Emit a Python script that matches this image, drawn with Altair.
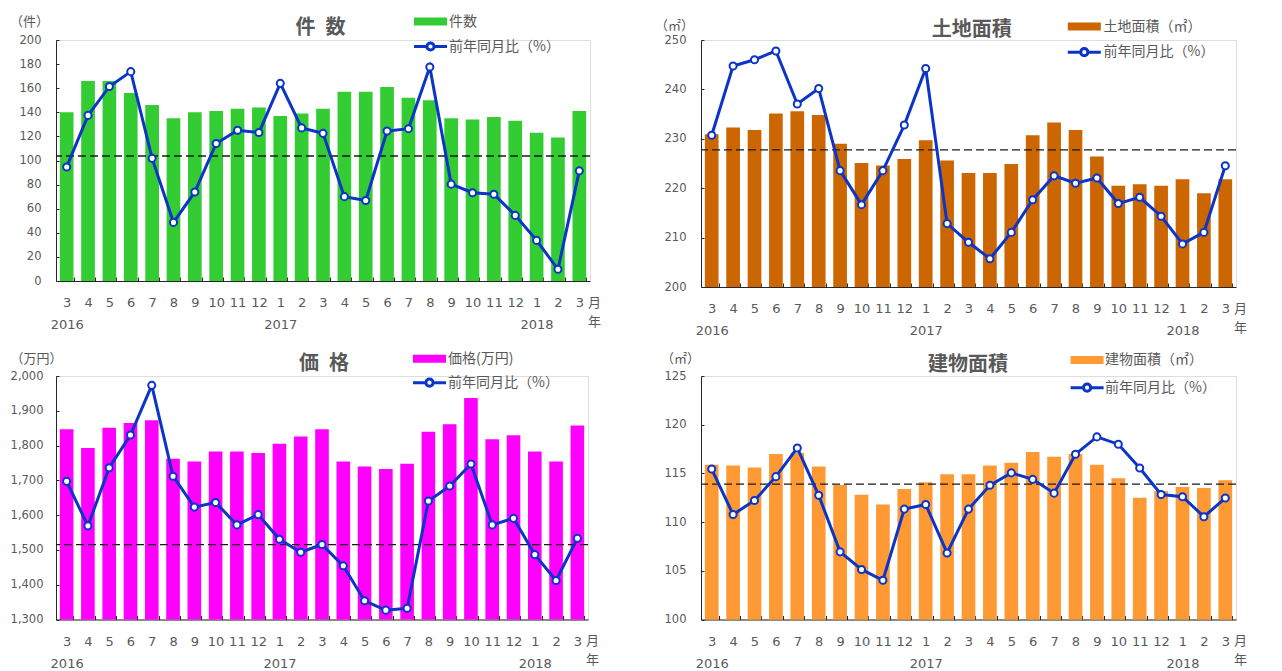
import json
import altair as alt
import pandas as pd

# ---------------- data ----------------
MONTHS = [3, 4, 5, 6, 7, 8, 9, 10, 11, 12, 1, 2, 3, 4, 5, 6, 7, 8, 9, 10, 11, 12, 1, 2, 3]
YEAR_AT = {0: "2016", 10: "2017", 22: "2018"}

COUNT = [140, 166, 166, 156, 146, 135, 140, 141, 143, 144, 137, 139, 143,
         157, 157, 161, 152, 150, 135, 134, 136, 133, 123, 119, 141]
COUNT_YOY = [-1.4, 5.2, 8.9, 10.8, -0.3, -8.5, -4.6, 1.6, 3.3, 3.0, 9.3, 3.6, 2.9,
             -5.2, -5.7, 3.2, 3.5, 11.4, -3.6, -4.7, -4.9, -7.6, -10.8, -14.5, -1.9]

LAND = [230.9, 232.3, 231.8, 235.1, 235.6, 234.8, 229.0, 225.1, 224.6, 225.9, 229.7, 225.6, 223.1,
        223.1, 224.9, 230.7, 233.3, 231.8, 226.4, 220.5, 220.8, 220.5, 221.8, 219.0, 221.8]
LAND_YOY = [0.53, 3.05, 3.28, 3.6, 1.67, 2.23, -0.76, -2.0, -0.76, 0.9, 2.96, -2.69, -3.37,
            -3.97, -3.01, -1.82, -0.95, -1.22, -1.03, -1.96, -1.73, -2.42, -3.43, -3.01, -0.58]

PRICE = [1847, 1793, 1851, 1865, 1873, 1762, 1754, 1783, 1783, 1779, 1805, 1826, 1847,
         1754, 1740, 1733, 1748, 1840, 1861, 1937, 1818, 1830, 1783, 1754, 1858]
PRICE_YOY = [6.75, 2.0, 8.2, 11.7, 17.0, 7.3, 4.0, 4.5, 2.1, 3.2, 0.57, -0.82, 0.0,
             -2.27, -6.0, -7.0, -6.8, 4.65, 6.25, 8.6, 2.1, 2.8, -1.07, -3.84, 0.67]

BLDG = [115.9, 115.8, 115.6, 117.0, 117.1, 115.7, 113.8, 112.8, 111.8, 113.4, 114.1, 114.9, 114.9,
        115.8, 116.1, 117.2, 116.7, 117.0, 115.9, 114.5, 112.5, 113.2, 113.6, 113.5, 114.3]
BLDG_YOY = [0.56, -1.12, -0.6, 0.28, 1.34, -0.41, -2.5, -3.15, -3.55, -0.92, -0.75, -2.54, -0.92,
            -0.04, 0.42, 0.18, -0.33, 1.11, 1.75, 1.48, 0.6, -0.38, -0.46, -1.2, -0.51]

LINE_NAME = "前年同月比（%）"

# ---------------- style ----------------
FONT_NUM = "DejaVu Sans"
FONT_JP = "Noto Sans CJK JP"
GRAY = "#595959"
AXIS = "#262626"
BLUE = "#0B34C8"

BAR_PATH = "M-4.125,-1L4.125,-1L4.125,1L-4.125,1Z"
LINE_PATH = ("M-4.125,0L-0.9,0M0.9,0L4.125,0"
             "M-0.9,0A0.9,0.9,0,1,1,0.9,0A0.9,0.9,0,1,1,-0.9,0Z")

x_labels = [[str(m), YEAR_AT[i]] if i in YEAR_AT else str(m) for i, m in enumerate(MONTHS)]
X_EXPR = json.dumps(x_labels, ensure_ascii=False) + "[datum.value]"


def panel(vals, yoy, bar_name, bar_color, title, unit, ldom, lticks, rdom, rticks,
          W, H, lfmt, p):
    df = pd.DataFrame({
        "idx": list(range(len(MONTHS))),
        "val": vals,
        "yoy": yoy,
        "bar": [bar_name] * len(MONTHS),
        "line": [LINE_NAME] * len(MONTHS),
    })
    base = alt.Chart(df)

    x = alt.X(
        "idx:O",
        scale=alt.Scale(paddingInner=0.36, paddingOuter=0.18),
        axis=alt.Axis(
            labelExpr=X_EXPR, labelAngle=0, labelFont=FONT_NUM, labelFontSize=13,
            labelColor=GRAY, labelPadding=19.5, labelLineHeight=22, labelBaseline="top",
            labelOverlap=False, tickBand="extent", tickSize={"expr": "-4"},
            tickColor=AXIS, domainColor=AXIS, grid=False,
            title=["月", "年"], titleX=W + 4, titleY=15, titleAngle=0,
            titleAlign="center", titleBaseline="top", titleFont=FONT_JP,
            titleFontSize=13, titleFontWeight="normal", titleColor=GRAY,
            titleLineHeight=19,
        ),
    )

    left_axis = dict(
        orient="left", values=lticks, labelFont=FONT_NUM, labelFontSize=11.5,
        labelColor=GRAY, labelPadding=p.get("lpad", 18), tickSize={"expr": "-3"},
        tickColor=AXIS, domainColor=AXIS, grid=False, labelOverlap=False,
        title=unit, titleX=p["ulx"], titleY=p["uy"], titleAngle=0,
        titleAlign="center", titleBaseline="middle", titleFont=FONT_JP,
        titleFontSize=13, titleFontWeight="normal", titleColor=GRAY,
    )
    if lfmt:
        left_axis["format"] = lfmt

    bars = base.mark_bar().encode(
        x=x,
        y=alt.Y("val:Q", scale=alt.Scale(domain=ldom, nice=False, zero=False),
                axis=alt.Axis(**left_axis)),
        y2=alt.datum(ldom[0]),
        fill=alt.Fill(
            "bar:N",
            scale=alt.Scale(domain=[bar_name], range=[bar_color]),
            legend=alt.Legend(
                orient="none", legendX=p["lx"] + 12.5, legendY=p["lby"] - 6.5,
                title=None, symbolType=BAR_PATH, symbolSize=64, symbolStrokeWidth=0,
                labelFont=FONT_JP, labelFontSize=14, labelColor=GRAY,
                labelOffset=p["llx"] - p["lx"] - 24.5, padding=0,
            ),
        ),
    )

    line = base.mark_line(strokeWidth=3).encode(
        x=x,
        y=alt.Y(
            "yoy:Q", scale=alt.Scale(domain=rdom, nice=False, zero=False),
            axis=alt.Axis(
                orient="right", values=rticks, labelFont=FONT_NUM, labelFontSize=11.5,
                labelColor={"condition": {"test": "datum.value < 0", "value": "#FF0000"},
                            "value": GRAY},
                labelPadding=19.5, tickSize={"expr": "-3"}, tickColor=AXIS,
                domainColor=AXIS, grid=False, labelOverlap=False,
                title="（%）", titleX=p["urx"], titleY=p["uy"], titleAngle=0,
                titleAlign="center", titleBaseline="middle", titleFont=FONT_JP,
                titleFontSize=13, titleFontWeight="normal", titleColor=GRAY,
            ),
        ),
        stroke=alt.Stroke(
            "line:N",
            scale=alt.Scale(domain=[LINE_NAME], range=[BLUE]),
            legend=alt.Legend(
                orient="none", legendX=p["lx"] + 12.5, legendY=p["lly"] - 6.5,
                title=None, symbolType=LINE_PATH, symbolSize=64, symbolStrokeWidth=3,
                symbolFillColor="white", labelFont=FONT_JP, labelFontSize=14,
                labelColor=GRAY, labelOffset=p["llx"] - p["lx"] - 24.5, padding=0,
            ),
        ),
    )

    pts = base.mark_point(filled=True, fill="white", stroke=BLUE, strokeWidth=2,
                          size=50, opacity=1).encode(x=x, y=alt.Y("yoy:Q"))

    zero = alt.Chart(pd.DataFrame({"z": [0]})).mark_rule(
        strokeDash=[8, 4], color="#1a1a1a", strokeWidth=1.3
    ).encode(y=alt.Y("z:Q", axis=None))

    ttl = alt.Chart(pd.DataFrame({"t": [title]})).mark_text(
        font=FONT_JP, fontSize=20, fontWeight="bold", color=GRAY,
        align="center", baseline="middle",
    ).encode(text="t:N", x=alt.value(p["tx"]), y=alt.value(p["ty"]))

    inner = alt.layer(zero, line, pts)
    return alt.layer(bars, inner, ttl).resolve_scale(y="independent").properties(
        width=W, height=H)


p1 = panel(COUNT, COUNT_YOY, "件数", "#33CC33", "件\u2002数", "（件）",
           [0, 200], list(range(0, 201, 20)), [-16, 14.85], list(range(-16, 15, 2)),
           534, 241, None,
           dict(tx=264.5, ty=-12.5, ulx=-27, urx=18.5, uy=-19,
                lx=355, lby=-19, lly=6, llx=391))
p2 = panel(LAND, LAND_YOY, "土地面積（㎡）", "#CC6600", "土地面積", "（㎡）",
           [200, 250], list(range(200, 251, 10)), [-5, 4], list(range(-5, 5)),
           535, 247, None,
           dict(tx=270.7, ty=-10, ulx=-27, urx=17, uy=-15,
                lx=363.8, lby=-14, lly=11.7, llx=400.5))
p3 = panel(PRICE, PRICE_YOY, "価格(万円)", "#FF00FF", "価\u2002格", "（万円）",
           [1300, 2000], list(range(1300, 2001, 100)), [-8, 18], list(range(-8, 19, 2)),
           532, 243.5, ",d",
           dict(tx=268, ty=-12, ulx=-20, urx=21, uy=-17.8, lpad=16,
                lx=354, lby=-17.8, lly=6.2, llx=390))
p4 = panel(BLDG, BLDG_YOY, "建物面積（㎡）", "#FF9933", "建物面積", "（㎡）",
           [100, 125], list(range(100, 126, 5)), [-5, 4], list(range(-5, 5)),
           535, 243.5, None,
           dict(tx=267, ty=-11, ulx=-21, urx=17, uy=-17.8,
                lx=366.6, lby=-16.5, lly=11.2, llx=402))

chart = alt.concat(p1, p2, p3, p4, columns=2, spacing={"row": 13, "column": 51}).resolve_scale(
    x="independent", y="independent", fill="independent", stroke="independent"
).resolve_legend(fill="independent", stroke="independent").properties(
    padding={"left": 0, "top": 6, "right": 0, "bottom": 0}
).configure_view(stroke="transparent", strokeWidth=0).configure(background="white")

chart.save("out.html", embed_options={"renderer": "svg", "actions": False})
